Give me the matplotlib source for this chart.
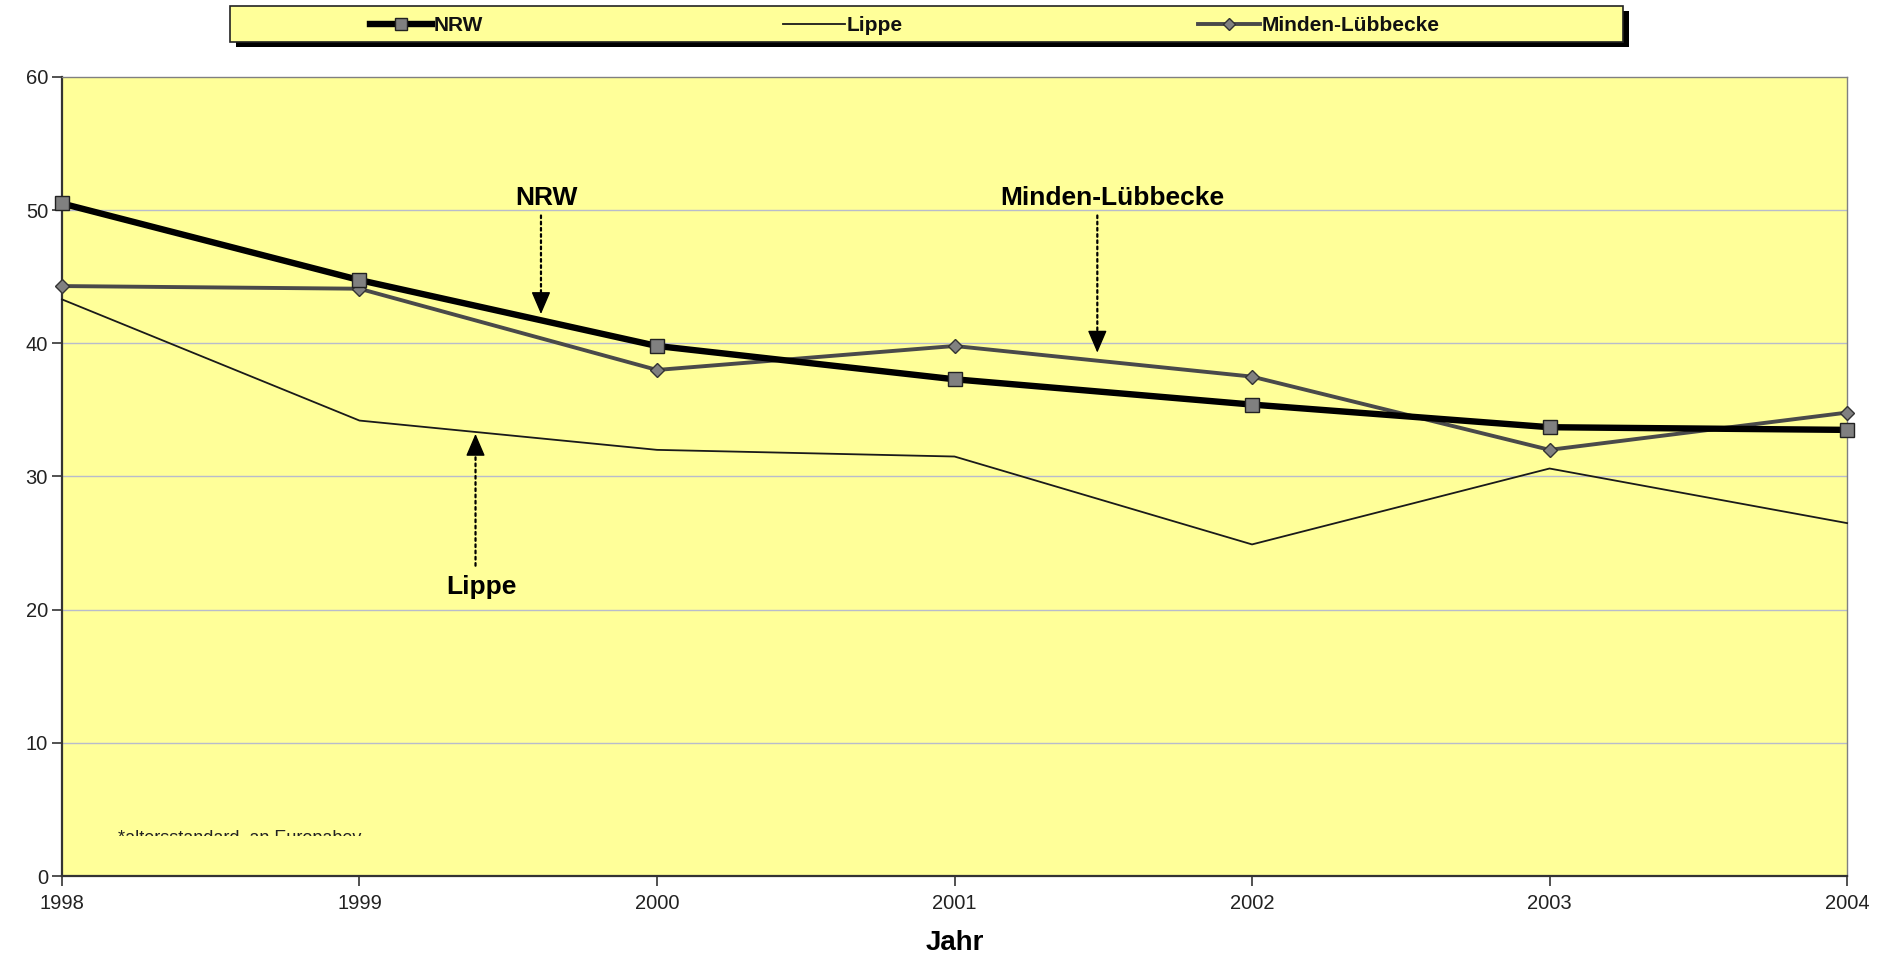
'''plot.py

Altersstandardisierte Rate: NRW, Lippe und Minden-Luebbecke 1998-2004.
'''
import matplotlib
matplotlib.use("Agg")
import matplotlib.pyplot as plt
from matplotlib.lines import Line2D
from matplotlib.patches import Rectangle
from matplotlib.transforms import Bbox, TransformedBbox

# Data
years = [1998, 1999, 2000, 2001, 2002, 2003, 2004]
nrw = [50.5, 44.75, 39.8, 37.3, 35.4, 33.7, 33.5]
lippe = [43.3, 34.2, 32.0, 31.5, 24.9, 30.6, 26.5]
minden = [44.3, 44.1, 38.0, 39.8, 37.5, 32.0, 34.8]
y_ticks = [0, 10, 20, 30, 40, 50, 60]

YELLOW = "#ffff99"
GREY = "#808080"
DARK = "#4a4a4a"

plt.rcParams["font.family"] = ["Liberation Sans", "DejaVu Sans"]


def pointer(ax, x, y_tail, y_tip):
    """Dotted vertical line ending in a solid arrow head."""
    head = 1.3 if y_tip < y_tail else -1.3
    ax.annotate("", xy=(x, y_tip + head), xytext=(x, y_tail),
                arrowprops=dict(arrowstyle="-", linestyle=(0, (1.2, 1.6)),
                                color="black", linewidth=1.6, shrinkA=0, shrinkB=0))
    ax.annotate("", xy=(x, y_tip), xytext=(x, y_tip + head),
                arrowprops=dict(arrowstyle="-|>,head_length=0.7,head_width=0.3",
                                color="black", linewidth=1.0, mutation_scale=20,
                                shrinkA=0, shrinkB=0))


def main() -> None:
    fig = plt.figure(figsize=(18.95, 9.55), dpi=100)
    ax = fig.add_axes([0.0327, 0.0827, 0.942, 0.8367])
    ax.set_facecolor(YELLOW)

    # grid + spines
    for v in y_ticks[1:-1]:
        ax.axhline(v, color="#b8bccc", linewidth=1.0, zorder=1)
    for side in ("top", "right"):
        ax.spines[side].set_color(GREY)
        ax.spines[side].set_linewidth(1.0)
    for side in ("left", "bottom"):
        ax.spines[side].set_color("#333333")
        ax.spines[side].set_linewidth(1.6)

    # series
    ax.plot(years, lippe, color="#1a1a1a", linewidth=1.3, zorder=3, clip_on=False)
    ax.plot(years, minden, color=DARK, linewidth=2.8, marker="D", markersize=7,
            markerfacecolor=GREY, markeredgecolor="#333333", markeredgewidth=1.0,
            zorder=4, clip_on=False)
    ax.plot(years, nrw, color="black", linewidth=4.6, marker="s", markersize=10,
            markerfacecolor=GREY, markeredgecolor="#222222", markeredgewidth=1.0,
            zorder=5, clip_on=False)

    ax.set_xlim(years[0], years[-1])
    ax.set_ylim(0, 60)
    ax.set_xticks(years)
    ax.set_yticks(y_ticks)
    ax.tick_params(axis="both", direction="out", length=7, width=1.2,
                   color="#333333", labelsize=14.5, labelcolor="#222222")
    ax.tick_params(axis="x", pad=6)
    ax.tick_params(axis="y", pad=3)
    ax.set_xlabel("Jahr", fontsize=20, fontweight="bold", labelpad=12)

    # annotations with dotted arrows
    pointer(ax, 1999.61, 49.6, 42.2)
    ax.text(1999.63, 50.9, "NRW", fontsize=19, fontweight="bold",
            ha="center", va="center")
    pointer(ax, 2001.48, 49.6, 39.3)
    ax.text(2001.53, 50.9, "Minden-Lübbecke", fontsize=19, fontweight="bold",
            ha="center", va="center")
    pointer(ax, 1999.39, 23.3, 33.2)
    ax.text(1999.41, 21.7, "Lippe", fontsize=19, fontweight="bold",
            ha="center", va="center")

    # footnote, cut off at the bottom like in the original
    note = ax.text(1998.19, 2.45, "*altersstandard. an Europabev.", fontsize=13,
                   color="#222222", va="baseline", ha="left")
    note.set_clip_box(TransformedBbox(Bbox([[1998, 3.0], [2004, 10]]), ax.transData))
    note.set_clip_on(True)

    # legend box drawn on the figure
    x0, y0, w, h = 0.1214, 0.956, 0.735, 0.0377
    fig.patches.append(Rectangle((x0 + 0.003, y0 - 0.005), w, h, transform=fig.transFigure,
                                 facecolor="black", edgecolor="none", zorder=1))
    fig.patches.append(Rectangle((x0, y0), w, h, transform=fig.transFigure,
                                 facecolor=YELLOW, edgecolor="#222222",
                                 linewidth=1.2, zorder=2))
    yc = 0.975
    entries = [
        ("NRW", 0.195, dict(color="black", linewidth=4.6, marker="s", markersize=9,
                            markerfacecolor=GREY, markeredgecolor="#222222")),
        ("Lippe", 0.413, dict(color="#1a1a1a", linewidth=1.3)),
        ("Minden-Lübbecke", 0.632, dict(color=DARK, linewidth=2.8, marker="D",
                                        markersize=6, markerfacecolor=GREY,
                                        markeredgecolor="#333333")),
    ]
    for label, xs, style in entries:
        line = Line2D([xs, xs + 0.0165, xs + 0.033], [yc, yc, yc],
                      transform=fig.transFigure, markevery=[1], zorder=3, **style)
        fig.lines.append(line)
        fig.text(xs + 0.034, yc, label, fontsize=15, fontweight="bold",
                 ha="left", va="center_baseline", color="#111111", zorder=4)

    fig.savefig("out.png", dpi=100, facecolor="white")
    plt.close(fig)


if __name__ == "__main__":
    main()
